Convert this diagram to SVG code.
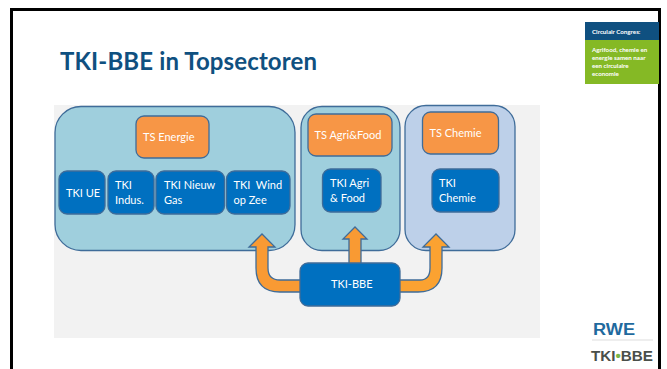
<svg xmlns="http://www.w3.org/2000/svg" width="667" height="369" viewBox="0 0 667 369">
<style>
text{font-family:Lato,"Open Sans",sans-serif}
.box{stroke:#3f6c99;stroke-width:1.300}
.c1{fill:#9fcfdd}
.c2{fill:#bdd0e9}
.o{fill:#f79646}
.b{fill:#0070c0}
.t{fill:#fff;font-size:11px}
.a{fill:#f99a33;stroke:#3f6c99;stroke-width:1.300}
.s{fill:#fff;font-size:6.200px;font-weight:700}
.logo{font-family:"Liberation Sans",sans-serif;font-weight:700}
</style>
<rect width="667" height="369" fill="#fff"/>
<path d="M11.500 369V9.500H659.500V369" fill="none" stroke="#000" stroke-width="3"/>
<text x="60" y="70" font-size="24" font-weight="700" fill="#0f5080" textLength="257">TKI-BBE in Topsectoren</text>
<rect x="54" y="105" width="486" height="233" fill="#f2f2f2"/>
<g id="sidebar">
<rect x="585" y="22" width="74" height="18" fill="#0f5080"/>
<rect x="585" y="40" width="74" height="44" fill="#85b925"/>
<text class="s" x="592" y="33.500">Circulair Congres:</text>
<text class="s" x="592" y="51.500">Agrifood, chemie en</text>
<text class="s" x="592" y="59.500">energie samen naar</text>
<text class="s" x="592" y="67.500">een circulaire</text>
<text class="s" x="592" y="75.500">economie</text>
</g>
<g id="energie"><rect class="box c1" x="55" y="106.500" width="240" height="144" rx="26"/></g>
<g id="agri"><rect class="box c1" x="301" y="106.500" width="99" height="144" rx="21"/></g>
<g id="chemie"><rect class="box c2" x="405" y="105.500" width="110" height="145" rx="21"/></g>
<g id="ts-energie"><rect class="box o" x="136" y="116" width="73" height="42" rx="8"/><text class="t" x="143" y="141">TS Energie</text></g>
<g id="tki-ue"><rect class="box b" x="59" y="171" width="46" height="43" rx="8"/><text class="t" x="66" y="197">TKI UE</text></g>
<g id="tki-indus"><rect class="box b" x="108" y="171" width="46" height="43" rx="8"/><text class="t" x="115" y="189">TKI</text><text class="t" x="115" y="204">Indus.</text></g>
<g id="tki-nieuw-gas"><rect class="box b" x="156" y="171" width="68.500" height="43" rx="8"/><text class="t" x="164" y="189">TKI Nieuw</text><text class="t" x="164" y="204">Gas</text></g>
<g id="tki-wind"><rect class="box b" x="226.500" y="171" width="63.500" height="43" rx="8"/><text class="t" x="233.500" y="189" xml:space="preserve">TKI  Wind</text><text class="t" x="233.500" y="204">op Zee</text></g>
<g id="ts-agri"><rect class="box o" x="308" y="114" width="84" height="42" rx="8"/><text class="t" x="314.500" y="139">TS Agri&amp;Food</text></g>
<g id="tki-agri"><rect class="box b" x="322.500" y="169" width="58.500" height="43" rx="8"/><text class="t" x="330" y="187">TKI Agri</text><text class="t" x="330" y="202">&amp; Food</text></g>
<g id="ts-chemie"><rect class="box o" x="422.500" y="112" width="76" height="42" rx="8"/><text class="t" x="429.500" y="137">TS Chemie</text></g>
<g id="tki-chemie"><rect class="box b" x="432" y="169" width="67" height="43" rx="8"/><text class="t" x="439" y="187">TKI</text><text class="t" x="439" y="202">Chemie</text></g>
<g id="connectors">
<path class="a" d="M301 292H280Q256 292 256 268V247H249L262 234L275 247H268V268Q268 280 280 280H301Z"/>
<path class="a" d="M349 264V239H343L355 227L367 239H361V264Z"/>
<path class="a" d="M399 280H420Q430 280 430 268V247H423L436 234L449 247H442V268Q442 292 418 292H399Z" style="fill:#fba231"/>
</g>
<g id="tki-bbe"><rect class="box b" x="300" y="263" width="100" height="43" rx="8"/><text class="t" x="331" y="288">TKI-BBE</text></g>
<g id="logos">
<text class="logo" x="593" y="335" font-size="16" fill="#1f6a9e" textLength="42" lengthAdjust="spacingAndGlyphs">RWE</text>
<rect x="592" y="339" width="61" height="2" fill="#eee"/>
<text class="logo" x="591" y="361" font-size="15" fill="#4a4f4a" textLength="62" lengthAdjust="spacingAndGlyphs">TKI<tspan fill="#7ab648">•</tspan>BBE</text>
</g>
</svg>
